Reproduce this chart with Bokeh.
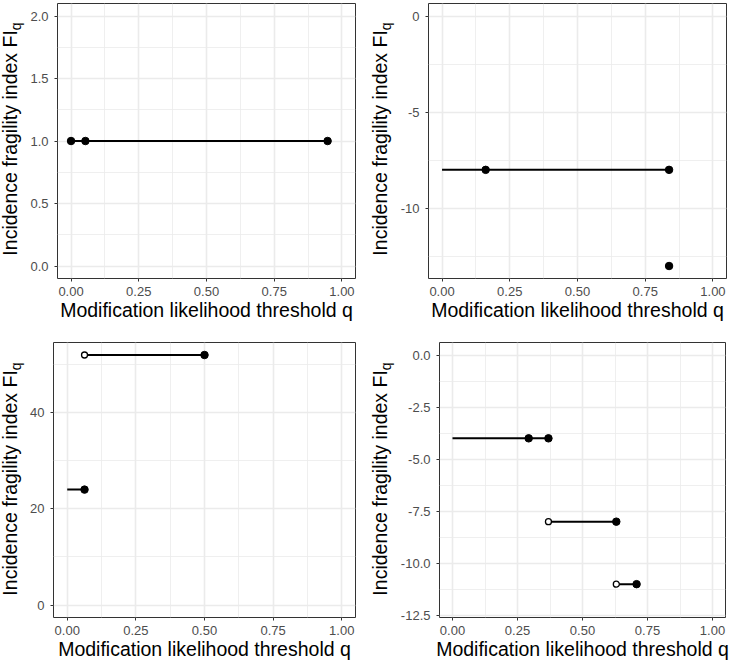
from bokeh.plotting import figure
from bokeh.layouts import column, row
from bokeh.models import FixedTicker, Range1d, CustomJSTickFormatter, Div
from bokeh.embed import file_html
from bokeh.resources import INLINE

FONT = "Liberation Sans"

# ---------------- data ----------------
x_ticks = [0.0, 0.25, 0.5, 0.75, 1.0]
x_minor = [0.125, 0.375, 0.625, 0.875]
x_tick_labels = ["0.00", "0.25", "0.50", "0.75", "1.00"]
x_limits = (0.0, 1.0)

x_title = "Modification likelihood threshold q"
y_title_main = "Incidence fragility index FI"
y_title_sub = "q"

# Panel A (top-left)
a_seg_x0 = [0.0]
a_seg_x1 = [0.947]
a_seg_y = [1.0]
a_filled_x = [0.0, 0.053, 0.947]
a_filled_y = [1.0, 1.0, 1.0]
a_open_x = []
a_open_y = []
a_y_ticks = [0.0, 0.5, 1.0, 1.5, 2.0]
a_y_minor = [0.25, 0.75, 1.25, 1.75]
a_y_tick_labels = ["0.0", "0.5", "1.0", "1.5", "2.0"]
a_y_limits = (0.0, 2.0)

# Panel B (top-right)
b_seg_x0 = [0.0]
b_seg_x1 = [0.838]
b_seg_y = [-8.0]
b_filled_x = [0.161, 0.838, 0.838]
b_filled_y = [-8.0, -8.0, -13.0]
b_open_x = []
b_open_y = []
b_y_ticks = [-10.0, -5.0, 0.0]
b_y_minor = [-12.5, -7.5, -2.5]
b_y_tick_labels = ["-10", "-5", "0"]
b_y_limits = (-13.0, 0.0)

# Panel C (bottom-left)
c_seg_x0 = [0.0, 0.063]
c_seg_x1 = [0.063, 0.5]
c_seg_y = [24.0, 52.0]
c_filled_x = [0.063, 0.5]
c_filled_y = [24.0, 52.0]
c_open_x = [0.063]
c_open_y = [52.0]
c_y_ticks = [0.0, 20.0, 40.0]
c_y_minor = [10.0, 30.0, 50.0]
c_y_tick_labels = ["0", "20", "40"]
c_y_limits = (0.0, 52.0)

# Panel D (bottom-right)
d_seg_x0 = [0.0, 0.369, 0.63]
d_seg_x1 = [0.369, 0.63, 0.708]
d_seg_y = [-4.0, -8.0, -11.0]
d_filled_x = [0.293, 0.369, 0.63, 0.708]
d_filled_y = [-4.0, -4.0, -8.0, -11.0]
d_open_x = [0.369, 0.63]
d_open_y = [-8.0, -11.0]
d_y_ticks = [-12.5, -10.0, -7.5, -5.0, -2.5, 0.0]
d_y_minor = [-11.25, -8.75, -6.25, -3.75, -1.25]
d_y_tick_labels = ["-12.5", "-10.0", "-7.5", "-5.0", "-2.5", "0.0"]
d_y_limits = (-12.0, 0.0)

# ---------------- styling / layout ----------------
TITLE_SIZE = "19.5px"
SUB_SIZE = "14px"
TICK_SIZE = "13px"
LEFT_DIV_W = 26
RIGHT_DIV_W = 30


def formatter(tvals, tlabels):
    return CustomJSTickFormatter(args=dict(tvals=tvals, tlabels=tlabels), code="""
        for (let i = 0; i < tvals.length; i++) {
            if (Math.abs(tvals[i] - tick) < 1e-9) { return tlabels[i]; }
        }
        return "";
    """)


def expand(lims, frac=0.05):
    span = lims[1] - lims[0]
    return (lims[0] - frac * span, lims[1] + frac * span)


def ytitle_div(w, h, cx, cy):
    html = (
        f'<div style="position:relative;width:{w}px;height:{h}px;">'
        f'<span style="position:absolute;left:{cx}px;top:{cy}px;'
        f'transform:translate(-50%,-50%) rotate(-90deg);white-space:nowrap;'
        f'font-family:\'{FONT}\';font-size:{TITLE_SIZE};line-height:1;color:#000000;">'
        f'{y_title_main}<sub style="font-size:{SUB_SIZE};vertical-align:-4px;'
        f'line-height:0;">{y_title_sub}</sub></span></div>'
    )
    return Div(text=html, width=w, height=h, margin=0)


def panel(seg_x0, seg_x1, seg_y, fx, fy, ox, oy, yt, ym, ylab, ylim,
          w, h, bl, br, bt, bb):
    xr = expand(x_limits)
    yr = expand(ylim)
    p = figure(width=w, height=h, output_backend="svg", toolbar_location=None,
               title=None, x_range=Range1d(*xr), y_range=Range1d(*yr),
               min_border_left=bl, min_border_right=br,
               min_border_top=bt, min_border_bottom=bb)
    p.background_fill_color = "white"
    p.border_fill_color = "white"
    p.outline_line_color = "#333333"
    p.outline_line_width = 1

    p.xaxis.ticker = FixedTicker(ticks=x_ticks, minor_ticks=x_minor)
    p.xaxis.formatter = formatter(x_ticks, x_tick_labels)
    p.yaxis.ticker = FixedTicker(ticks=yt, minor_ticks=ym)
    p.yaxis.formatter = formatter(yt, ylab)
    for ax in (p.xaxis, p.yaxis):
        ax.axis_line_color = None
        ax.major_tick_line_color = "#333333"
        ax.major_tick_line_width = 1
        ax.major_tick_out = 3
        ax.major_tick_in = 0
        ax.minor_tick_line_color = None
        ax.major_label_text_font = FONT
        ax.major_label_text_font_size = TICK_SIZE
        ax.major_label_text_color = "#4d4d4d"
    p.xaxis.major_label_standoff = 4
    p.yaxis.major_label_standoff = 5
    p.xaxis.axis_label = x_title
    p.xaxis.axis_label_text_font = FONT
    p.xaxis.axis_label_text_font_size = TITLE_SIZE
    p.xaxis.axis_label_text_font_style = "normal"
    p.xaxis.axis_label_text_color = "#000000"
    p.xaxis.axis_label_standoff = 0

    for g in (p.xgrid, p.ygrid):
        g.grid_line_color = "#ebebeb"
        g.grid_line_width = 1.6
        g.minor_grid_line_color = "#ebebeb"
        g.minor_grid_line_width = 0.8

    p.segment(x0=seg_x0, y0=seg_y, x1=seg_x1, y1=seg_y,
              line_color="black", line_width=2)
    if len(fx):
        p.scatter(fx, fy, size=7.5, fill_color="black", line_color="black")
    if len(ox):
        p.scatter(ox, oy, size=6, fill_color="white", line_color="black",
                  line_width=1.3)
    return p


TOP_H = 331
BOT_H = 331
LEFT_FW = 364 - LEFT_DIV_W
RIGHT_FW = 365 - RIGHT_DIV_W

pa = panel(a_seg_x0, a_seg_x1, a_seg_y, a_filled_x, a_filled_y, a_open_x, a_open_y,
           a_y_ticks, a_y_minor, a_y_tick_labels, a_y_limits,
           LEFT_FW, TOP_H, 31, 9, 3, 53)
pb = panel(b_seg_x0, b_seg_x1, b_seg_y, b_filled_x, b_filled_y, b_open_x, b_open_y,
           b_y_ticks, b_y_minor, b_y_tick_labels, b_y_limits,
           RIGHT_FW, TOP_H, 34, 3, 3, 53)
pc = panel(c_seg_x0, c_seg_x1, c_seg_y, c_filled_x, c_filled_y, c_open_x, c_open_y,
           c_y_ticks, c_y_minor, c_y_tick_labels, c_y_limits,
           LEFT_FW, BOT_H, 27, 9, 11, 45)
pd = panel(d_seg_x0, d_seg_x1, d_seg_y, d_filled_x, d_filled_y, d_open_x, d_open_y,
           d_y_ticks, d_y_minor, d_y_tick_labels, d_y_limits,
           RIGHT_FW, BOT_H, 45, 4, 11, 45)

da = ytitle_div(LEFT_DIV_W, TOP_H, 10.5, 138.5)
db = ytitle_div(RIGHT_DIV_W, TOP_H, 16.6, 138.5)
dc = ytitle_div(LEFT_DIV_W, BOT_H, 10.5, 147.5)
dd = ytitle_div(RIGHT_DIV_W, BOT_H, 16.6, 147.5)

layout = column(row(da, pa, db, pb), row(dc, pc, dd, pd))
open("out.html", "w").write(file_html(layout, INLINE))
